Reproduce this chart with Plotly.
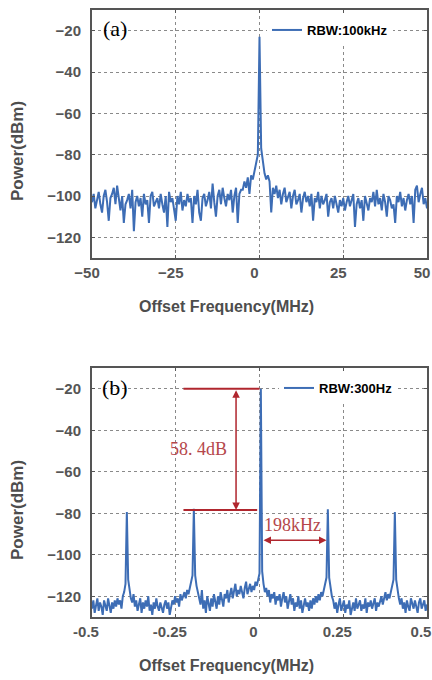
import numpy as np
import plotly.graph_objects as go

# ---------------- data ----------------
# (a) RBW 100 kHz sweep: -50 .. 50 MHz, 201 points
freq_a_start, freq_a_stop, n_a = -50.0, 50.0, 201
power_a = [
    -103, -99, -106, -101, -98, -104, -108, -100, -97, -103,
    -112, -101, -99, -96, -104, -95, -102, -107, -100, -113,
    -104, -102, -99, -106, -97, -117, -103, -100, -105, -101,
    -110, -99, -104, -102, -113, -100, -98, -105, -103, -101,
    -106, -99, -104, -108, -100, -115, -98, -103, -101, -106,
    -112, -100, -104, -98, -107, -102, -105, -99, -103, -101,
    -113, -100, -104, -97, -108, -112, -101, -99, -105, -102,
    -98, -106, -94, -103, -110, -100, -97, -104, -96, -101,
    -105, -99, -102, -97, -108, -100, -96, -113, -99, -97,
    -97, -93, -96, -91, -99, -90, -92, -88, -84, -80,
    -23,
    -77, -83, -89, -92, -90, -93, -108, -96, -99,
    -95, -101, -97, -104, -99, -96, -103, -100, -98, -106,
    -100, -97, -104, -102, -99, -108, -101, -98, -103, -100,
    -105, -99, -112, -101, -103, -98, -106, -100, -104, -102,
    -99, -110, -103, -101, -106, -100, -104, -108, -102, -105,
    -101, -107, -103, -100, -105, -102, -99, -115, -104, -101,
    -106, -102, -112, -100, -104, -107, -101, -103, -98, -105,
    -97, -104, -101, -107, -99, -103, -110, -100, -102, -106,
    -104, -113, -100, -103, -98, -105, -101, -107, -102, -99,
    -104, -100, -113, -97, -95, -103, -99, -96, -104, -101,
    -106,
]

# (b) RBW 300 Hz sweep: -0.5 .. 0.5 MHz, 251 points
freq_b_start, freq_b_stop, n_b = -0.5, 0.5, 251
power_b = [
    -126, -122, -128, -124, -121, -127, -123, -125, -129, -122,
    -124, -127, -121, -125, -128, -123, -126, -122, -125, -121,
    -124, -122, -126, -120, -118, -114,
    -79.4,
    -112, -117, -121,
    -123, -119, -125, -122, -127, -124, -121, -128, -123, -126,
    -122, -125, -120, -127, -124, -129, -123, -126, -121, -125,
    -127, -123, -126, -128, -124, -122, -126, -123, -129, -125,
    -122, -124, -120, -123, -121, -125, -119, -122, -120, -118,
    -121, -117, -119, -116, -113, -110,
    -77.8,
    -110, -115, -118,
    -121, -124, -117, -126, -122, -128, -120, -124, -127, -121,
    -125, -119, -123, -126, -120, -124, -118, -122, -125, -119,
    -121, -117, -123, -119, -116, -121, -118, -114, -120, -117,
    -119, -115, -118, -121, -116, -113, -119, -116, -114, -118,
    -115, -117, -113, -115, -112, -109,
    -20,
    -108, -114, -118,
    -116, -120, -117, -123, -119, -121, -118, -124, -120, -122,
    -119, -125, -121, -118, -123, -120, -126, -122, -119, -124,
    -121, -127, -123, -125, -120, -126, -122, -128, -124, -121,
    -125, -123, -127, -122, -126, -121, -124, -120, -123, -119,
    -122, -118, -120, -116, -114, -111,
    -78.1,
    -111, -116, -120,
    -122, -126, -123, -128, -124, -121, -127, -125, -122, -128,
    -124, -126, -122, -129, -125, -123, -127, -121, -126, -124,
    -122, -127, -124, -126, -121, -128, -123, -125, -122, -126,
    -124, -121, -127, -123, -125, -122, -120, -124, -121, -118,
    -122, -119, -121, -117, -115, -112,
    -79.4,
    -112, -117, -121,
    -124, -121, -126, -123, -128, -122, -125, -127, -121, -124,
    -126, -122, -125, -128, -123, -121, -126, -124, -122, -127, -124,
]

x_ticks_a = [-50, -25, 0, 25, 50]
x_ticks_b = [-0.5, -0.25, 0, 0.25, 0.5]
x_ticktext_b = ["-0.5", "-0.25", "0", "0.25", "0.5"]
y_ticks = [-120, -100, -80, -60, -40, -20]

# annotation values for panel (b)
carrier_level = -20
sideband_level = -78.4
suppression_text = "58. 4dB"
spacing_start, spacing_end, spacing_level = 0.0075, 0.2, -93
spacing_text = "198kHz"

freq_a = np.linspace(freq_a_start, freq_a_stop, n_a)
freq_b = np.linspace(freq_b_start, freq_b_stop, n_b)

# ---------------- figure ----------------
BLUE = "#3d6db5"
RED = "#b0262e"
AX = "#555555"
SANS = "Liberation Sans, Arial, sans-serif"
SERIF = "Liberation Serif, Times New Roman, serif"

fig = go.Figure()
fig.add_trace(go.Scatter(x=freq_a, y=power_a, mode="lines", name="RBW:100kHz",
                         line=dict(color=BLUE, width=2), xaxis="x", yaxis="y",
                         legend="legend"))
fig.add_trace(go.Scatter(x=freq_b, y=power_b, mode="lines", name="RBW:300Hz",
                         line=dict(color=BLUE, width=2), xaxis="x2", yaxis="y2",
                         legend="legend2"))

xdom = [92 / 432, 427 / 432]
ydom_a = [(680 - 258) / 680, (680 - 10) / 680]
ydom_b = [(680 - 617) / 680, (680 - 368) / 680]

axis_common = dict(
    showline=True, linecolor=AX, linewidth=2, mirror="ticks",
    ticks="inside", ticklen=3, tickcolor=AX, tickwidth=1,
    showgrid=True, gridcolor="#8a8a8a", griddash="dot", gridwidth=1,
    zeroline=False, automargin=False, ticklabeloverflow="allow",
    tickfont=dict(family=SANS, size=15, color=AX, weight="bold"),
)

fig.update_layout(
    width=432, height=680,
    margin=dict(l=0, r=0, t=0, b=0, autoexpand=False),
    paper_bgcolor="white", plot_bgcolor="white",
    showlegend=True,
    xaxis=dict(domain=xdom, anchor="y", range=[-50, 50], tickvals=x_ticks_a,
               ticklabelstandoff=0, ticklabelshift=-5, **axis_common),
    yaxis=dict(domain=ydom_a, anchor="x", range=[-130, -10], tickvals=y_ticks,
               ticklabelstandoff=6, **axis_common),
    xaxis2=dict(domain=xdom, anchor="y2", range=[-0.5, 0.5], tickvals=x_ticks_b,
                ticktext=x_ticktext_b, ticklabelstandoff=0, ticklabelshift=-6,
                **axis_common),
    yaxis2=dict(domain=ydom_b, anchor="x2", range=[-130, -10], tickvals=y_ticks,
                ticklabelstandoff=6, **axis_common),
    legend=dict(x=267 / 432, y=(680 - 15) / 680, xanchor="left", yanchor="top",
                bgcolor="white", borderwidth=0,
                font=dict(family=SANS, size=13, color="black", weight="bold"),
                itemwidth=30, tracegroupgap=0),
    legend2=dict(x=279 / 432, y=(680 - 373) / 680, xanchor="left", yanchor="top",
                 bgcolor="white", borderwidth=0,
                 font=dict(family=SANS, size=13, color="black", weight="bold"),
                 itemwidth=30, tracegroupgap=0),
)

title_font = dict(family=SANS, size=16, color="#4d4d4d", weight="bold")
ann = [
    dict(text="Offset Frequency(MHz)", x=226 / 432, y=(680 - 307) / 680,
         xref="paper", yref="paper", xanchor="center", yanchor="middle",
         showarrow=False, font=title_font),
    dict(text="Offset Frequency(MHz)", x=226 / 432, y=(680 - 665) / 680,
         xref="paper", yref="paper", xanchor="center", yanchor="middle",
         showarrow=False, font=title_font),
    dict(text="Power(dBm)", x=17 / 432, y=(680 - 151) / 680, textangle=-90,
         xref="paper", yref="paper", xanchor="center", yanchor="middle",
         showarrow=False, font=dict(title_font, size=17)),
    dict(text="Power(dBm)", x=17 / 432, y=(680 - 510) / 680, textangle=-90,
         xref="paper", yref="paper", xanchor="center", yanchor="middle",
         showarrow=False, font=dict(title_font, size=17)),
    dict(text="(a)", x=-43.1, y=-19, xref="x", yref="y", showarrow=False,
         xanchor="center", yanchor="middle",
         font=dict(family=SERIF, size=22, color="black")),
    dict(text="(b)", x=-0.431, y=-19.2, xref="x2", yref="y2", showarrow=False,
         xanchor="center", yanchor="middle",
         font=dict(family=SERIF, size=22, color="black")),
    # 58.4 dB vertical double arrow
    dict(text="", x=-0.070, y=sideband_level, ax=-0.070, ay=carrier_level,
         xref="x2", yref="y2", axref="x2", ayref="y2", showarrow=True,
         arrowhead=2, arrowside="end+start", arrowsize=1, arrowwidth=1.5,
         arrowcolor=RED, standoff=0, startstandoff=0),
    dict(text=suppression_text, x=-0.183, y=-49.2, xref="x2", yref="y2",
         xanchor="center", yanchor="middle",
         showarrow=False, font=dict(family=SERIF, size=18, color="#b5474b")),
    # 198 kHz horizontal double arrow
    dict(text="", x=spacing_end, y=spacing_level, ax=spacing_start, ay=spacing_level,
         xref="x2", yref="y2", axref="x2", ayref="y2", showarrow=True,
         arrowhead=2, arrowside="end+start", arrowsize=1, arrowwidth=1.5,
         arrowcolor=RED, standoff=0, startstandoff=0),
    dict(text=spacing_text, x=0.099, y=-85.8, xref="x2", yref="y2",
         xanchor="center", yanchor="middle",
         showarrow=False, font=dict(family=SERIF, size=18, color="#b5474b")),
]
fig.update_layout(annotations=ann)

fig.add_shape(type="line", xref="x2", yref="y2", x0=-0.227, x1=0.0,
              y0=carrier_level, y1=carrier_level, line=dict(color=RED, width=2))
fig.add_shape(type="line", xref="x2", yref="y2", x0=-0.227, x1=-0.007,
              y0=sideband_level, y1=sideband_level, line=dict(color=RED, width=2))

fig.write_html(
    "out.html",
    config={"displayModeBar": False},
    post_script="document.body.style.margin='0px';document.body.style.overflow='hidden';",
)
